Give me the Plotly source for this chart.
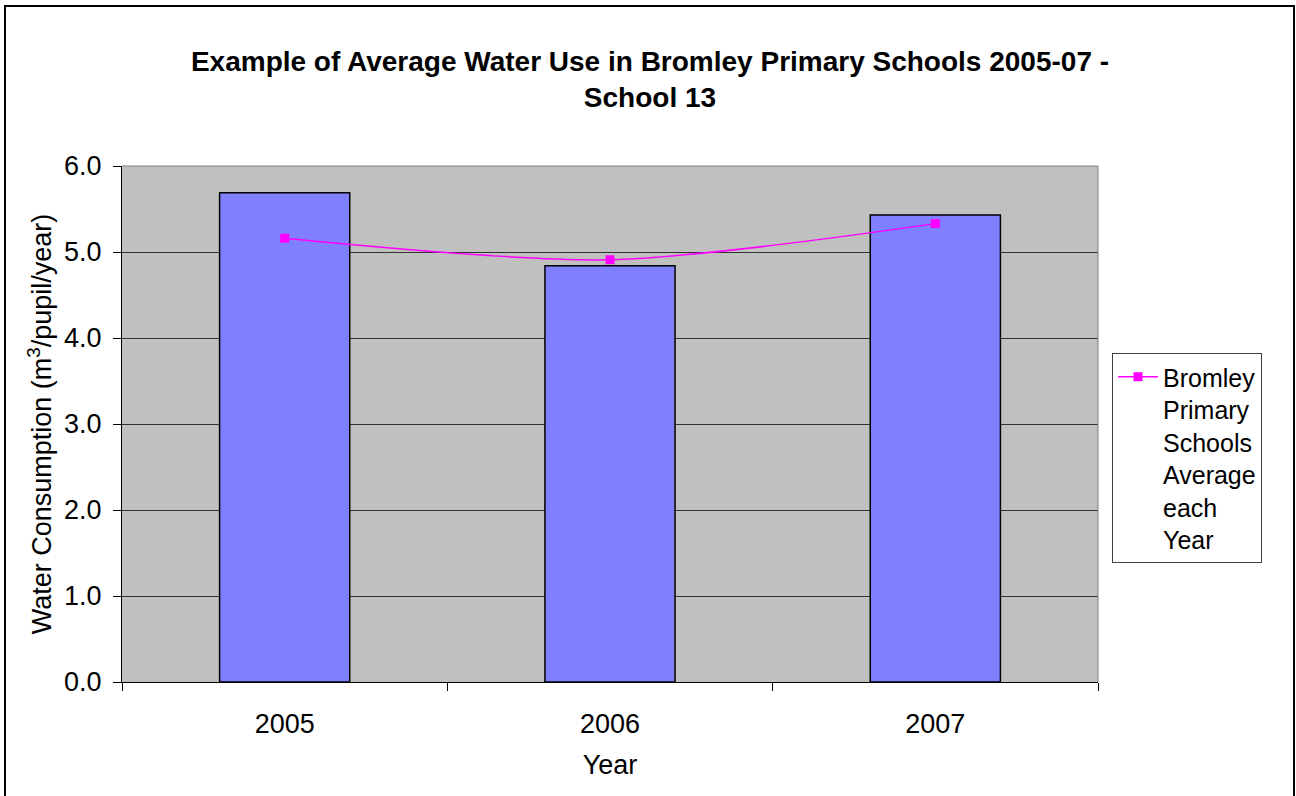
import plotly.graph_objects as go

# Data
years = ["2005", "2006", "2007"]
school_13 = [5.69, 4.84, 5.43]
bromley_avg = [5.16, 4.91, 5.33]
y_ticks = [0, 1, 2, 3, 4, 5, 6]

W, H = 1296, 796
L, R, T, B = 122, 198, 166, 114
pw, ph = W - L - R, H - T - B


def px_x(p):
    return (p - L) / pw


def px_y(p):
    return (H - B - p) / ph


font = "Arial, Liberation Sans, sans-serif"

fig = go.Figure()

fig.add_trace(go.Bar(
    x=years,
    y=school_13,
    marker=dict(color="#8080FF", line=dict(color="black", width=1.5)),
    showlegend=False,
    hoverinfo="y",
))

fig.add_trace(go.Scatter(
    x=years,
    y=bromley_avg,
    mode="lines+markers",
    name="Bromley<br>Primary<br>Schools<br>Average<br>each<br>Year",
    line=dict(color="#FF00FF", width=1.5, shape="spline", smoothing=0.8),
    marker=dict(symbol="square", size=9, color="#FF00FF"),
))

fig.update_layout(
    width=W,
    height=H,
    margin=dict(l=L, r=R, t=T, b=B),
    paper_bgcolor="white",
    plot_bgcolor="#C0C0C0",
    font=dict(family=font, color="black", size=27),
    bargap=0.6,
    title=dict(
        text="<b>Example of Average Water Use in Bromley Primary Schools 2005-07 -<br>School 13</b>",
        x=650 / W,
        xanchor="center",
        y=1 - 71 / H,
        yanchor="middle",
        font=dict(family=font, size=28, color="black"),
    ),
    xaxis=dict(
        type="category",
        range=[-0.5, 2.5],
        tickson="boundaries",
        ticks="outside",
        ticklen=8,
        tickcolor="black",
        showline=True,
        linecolor="black",
        linewidth=1,
        showgrid=False,
        tickfont=dict(size=27),
        ticklabelstandoff=18,
        title=dict(text="Year", font=dict(size=27), standoff=16),
    ),
    yaxis=dict(
        range=[0, 6],
        tickvals=y_ticks,
        tickformat=".1f",
        ticks="outside",
        ticklen=8,
        tickcolor="black",
        showline=True,
        linecolor="black",
        linewidth=1,
        showgrid=True,
        gridcolor="#333333",
        gridwidth=1,
        zeroline=False,
        tickfont=dict(size=27),
        ticklabelstandoff=6,
        title=dict(text="Water Consumption (m<sup>3</sup>/pupil/year)", font=dict(size=27), standoff=4),
    ),
    legend=dict(
        x=px_x(1112),
        y=px_y(353),
        xanchor="left",
        yanchor="top",
        bgcolor="white",
        bordercolor="#404040",
        borderwidth=1,
        valign="top",
        itemwidth=40,
        font=dict(size=25),
        tracegroupgap=0,
    ),
    shapes=[
        # plot-area frame on top and right
        dict(type="line", xref="paper", yref="paper", x0=0, x1=1, y0=1, y1=1,
             line=dict(color="#808080", width=1)),
        dict(type="line", xref="paper", yref="paper", x0=1, x1=1, y0=0, y1=1,
             line=dict(color="#808080", width=1)),
        # chart border
        dict(type="rect", xref="paper", yref="paper",
             x0=px_x(5), x1=px_x(1294), y0=px_y(805), y1=px_y(6),
             line=dict(color="black", width=2), fillcolor="rgba(0,0,0,0)"),
    ],
)

fig.write_html("out.html")
